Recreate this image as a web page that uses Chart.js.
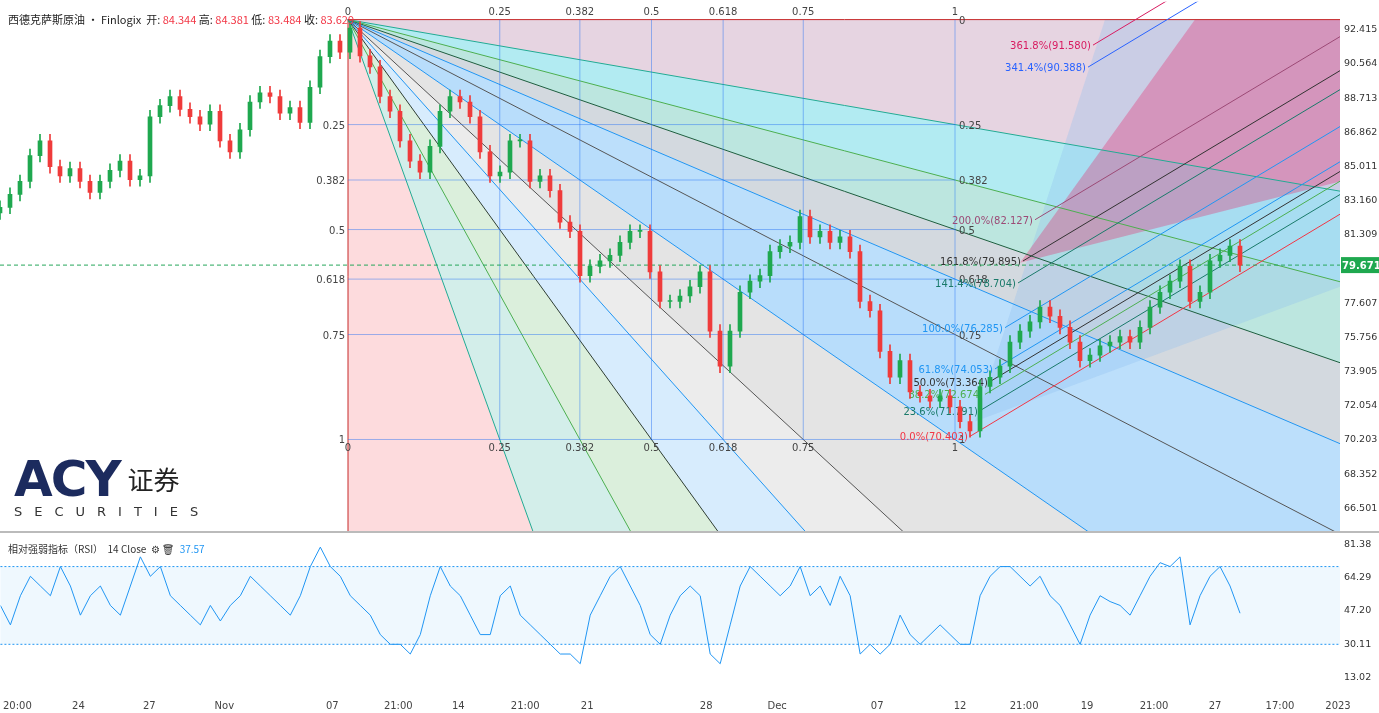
<!DOCTYPE html>
<html><head><meta charset="utf-8">
<script src="https://cdn.jsdelivr.net/npm/chart.js@4/dist/chart.umd.min.js"></script>
<style>
body{margin:0;width:1379px;height:713px;overflow:hidden;background:#fff;font-family:"Noto Sans CJK SC","Noto Sans",sans-serif}
#m{position:absolute;left:0;top:-8px;width:1379px;height:549px}
#r{position:absolute;left:0;top:525px;width:1379px;height:190px}
#sep{position:absolute;left:0;top:531px;width:1379px;height:2px;background:#bbb}
.hd{position:absolute;left:8px;top:11px;font-size:11px;color:#222;white-space:nowrap}
.hd b{font-weight:normal;color:#f23645}
.rl{position:absolute;left:8px;top:541px;font-size:10px;color:#333;white-space:nowrap}
.logo{position:absolute;left:14px;top:450px;color:#1c2b5e}
</style></head><body>
<div id="r"><canvas id="rc"></canvas></div>
<div id="m"><canvas id="mc"></canvas></div>
<div id="sep"></div>
<div class="hd">西德克萨斯原油 · Finlogix &nbsp;开: <b>84.344</b> 高: <b>84.381</b> 低: <b>83.484</b> 收: <b>83.629</b></div>
<div class="rl">相对强弱指标（RSI） &nbsp;14 Close &nbsp;⚙ 🗑 &nbsp;<span style="color:#2196f3">37.57</span></div>
<div class="logo"><span style="font:bold 50px 'DejaVu Sans',sans-serif;letter-spacing:-2px">ACY</span><span style="font:26px 'Noto Sans CJK SC';margin-left:8px;vertical-align:6px;color:#222">证券</span>
<div style="font:13px 'DejaVu Sans';letter-spacing:12px;color:#333;margin-top:-4px">SECURITIES</div></div>
<script>
const CLOSES=[82.8,83.5,84.2,85.6,86.4,85.0,84.5,84.9,84.2,83.6,84.2,84.8,85.3,84.3,84.5,87.7,88.3,88.8,88.1,87.7,87.3,88.0,86.4,85.8,87.0,88.5,89.0,88.8,87.9,88.2,87.4,89.3,90.96,91.8,91.2,92.5,91.0,90.4,88.8,88.0,86.4,85.3,84.7,86.1,88.0,88.8,88.5,87.7,85.8,84.5,84.7,86.4,86.4,84.2,84.5,83.7,82.0,81.5,79.1,79.6,79.9,80.2,80.9,81.5,81.5,79.3,77.7,77.7,78.0,78.5,79.3,76.1,74.2,76.1,78.2,78.8,79.1,80.4,80.7,80.9,82.3,81.2,81.5,80.9,81.2,80.4,77.7,77.2,75.0,73.6,74.5,72.8,72.6,72.3,72.6,72.0,71.2,70.7,73.1,73.6,74.2,75.5,76.1,76.6,77.4,76.9,76.3,75.5,74.5,74.8,75.3,75.5,75.8,75.5,76.3,77.4,78.2,78.8,79.6,77.7,78.2,79.9,80.2,80.7,79.67];
const RSI=[50,40,55,65,60,55,70,60,45,55,60,50,45,60,75,65,70,55,50,45,40,50,42,50,55,65,60,55,50,45,55,70,80,70,65,55,50,45,35,30,30,25,35,55,70,60,55,45,35,35,55,60,45,40,35,30,25,25,20,45,55,65,70,60,50,35,30,45,55,60,55,25,20,40,60,70,65,60,55,60,70,55,60,50,65,55,25,30,25,30,45,35,30,35,40,35,30,30,55,65,70,70,65,60,65,55,50,40,30,45,55,52,50,45,55,65,72,70,75,40,55,65,70,60,46];
const PRICE_TICKS=[92.415,90.564,88.713,86.862,85.011,83.160,81.309,79.458,77.607,75.756,73.905,72.054,70.203,68.352,66.501];
const RSI_TICKS=[81.38,64.29,47.20,30.11,13.02];
const X_TICK_POS=[1.7,7.8,14.9,22.4,33.2,39.8,45.8,52.5,58.7,70.6,77.7,87.7,96,102.4,108.7,115.4,121.5,128,133.8];
const X_TICK_LABELS=['20:00','24','27','Nov','07','21:00','14','21:00','21','28','Dec','07','12','21:00','19','21:00','27','17:00','2023'];
const LAST_PRICE=79.671;
const FAN_ORIGIN=[34.8,92.96], FAN_END=[95.5,70.23];
const FAN_LEVELS=[0.25,0.382,0.5,0.618,0.75];
const CH_LEVELS=[0,0.236,0.382,0.5,0.618,1,1.414,1.618,2,3.414,3.618];
const CH_VALUES=[70.402,71.791,72.674,73.364,74.053,76.285,78.704,79.895,82.127,90.388,91.580];
const CH_START=[97,98,98.5,99,99.5,100.5,101.8,102.3,103.5,108.8,109.3];
const CH_SLOPE=0.325;
const CH_COLORS=['#f23645','#1a7a6a','#4caf50','#333333','#2196f3','#2196f3','#1a7a6a','#333333','#9c4a76','#2962ff','#d81b60'];

const opens=CLOSES.map((c,i)=>i?CLOSES[i-1]:c-0.3);
const bodies=CLOSES.map((c,i)=>({x:i,y:[opens[i],c===opens[i]?c+0.05:c]}));
const wicks=CLOSES.map((c,i)=>({x:i,y:[Math.min(c,opens[i])-0.35,Math.max(c,opens[i])+0.35]}));
const cols=CLOSES.map((c,i)=>c>=opens[i]?'#1fa84f':'#ef3b3b');
const W=39;
function fit(a){a.width=W;}

const fanPlugin={id:'fan',beforeDatasetsDraw(ch){
 const {ctx,chartArea:a,scales:{x,y}}=ch;const px=v=>x.getPixelForValue(v),py=v=>y.getPixelForValue(v);
 const O=[px(FAN_ORIGIN[0]),py(FAN_ORIGIN[1])],E=[px(FAN_END[0]),py(FAN_END[1])];
 const pts=[[O[0],E[1]]];FAN_LEVELS.forEach(r=>pts.push([O[0]+r*(E[0]-O[0]),E[1]]));pts.push(E);
 [...FAN_LEVELS].reverse().forEach(r=>pts.push([E[0],O[1]+r*(E[1]-O[1])]));pts.push([E[0],O[1]]);
 const far=p=>[O[0]+(p[0]-O[0])*20,O[1]+(p[1]-O[1])*20];
 const fills=['rgba(242,54,69,0.18)','rgba(34,171,148,0.2)','rgba(76,175,80,0.2)','rgba(33,150,243,0.18)','rgba(120,120,120,0.14)','rgba(120,120,120,0.2)','rgba(33,150,243,0.32)','rgba(33,150,243,0.3)','rgba(110,130,150,0.3)','rgba(34,171,148,0.3)','rgba(0,188,212,0.3)','rgba(140,60,120,0.22)'];
 const lc=['#c62828','#22ab94','#4caf50','#2f3e33','#2196f3','#555','#2196f3','#555','#2196f3','#1e5e3f','#4caf50','#22ab94','#c62828'];
 ctx.save();ctx.beginPath();ctx.rect(a.left,a.top,a.right-a.left,a.bottom-a.top);ctx.clip();
 for(let i=0;i<pts.length-1;i++){const p=far(pts[i]),q=far(pts[i+1]);ctx.fillStyle=fills[i];ctx.beginPath();ctx.moveTo(O[0],O[1]);ctx.lineTo(p[0],p[1]);ctx.lineTo(q[0],q[1]);ctx.closePath();ctx.fill();}
 const C=(i,p)=>[px(i),py(p)];
 ctx.fillStyle='rgba(140,190,240,0.3)';let P=[C(97.5,71.2),C(110.5,92.96),C(134,92.96),C(134,78.5)];ctx.beginPath();P.forEach((p,k)=>k?ctx.lineTo(...p):ctx.moveTo(...p));ctx.fill();
 ctx.fillStyle='rgba(233,30,99,0.32)';P=[C(102,79.8),C(119.5,92.96),C(134,92.96),C(134,84.2)];ctx.beginPath();P.forEach((p,k)=>k?ctx.lineTo(...p):ctx.moveTo(...p));ctx.fill();
 ctx.lineWidth=1;
 for(let i=0;i<pts.length;i++){const p=far(pts[i]);ctx.strokeStyle=lc[i];ctx.beginPath();ctx.moveTo(O[0],O[1]);ctx.lineTo(p[0],p[1]);ctx.stroke();}
 ctx.strokeStyle='rgba(33,110,243,0.45)';
 [0.25,0.382,0.5,0.618,0.75,1].forEach(r=>{const gx=O[0]+r*(E[0]-O[0]);ctx.beginPath();ctx.moveTo(gx,O[1]);ctx.lineTo(gx,E[1]);ctx.stroke();const gy=O[1]+r*(E[1]-O[1]);ctx.beginPath();ctx.moveTo(O[0],gy);ctx.lineTo(E[0],gy);ctx.stroke();});
 ctx.font='10px "DejaVu Sans"';ctx.fillStyle='#444';ctx.textAlign='center';
 [0,0.25,0.382,0.5,0.618,0.75,1].forEach(r=>{const gx=O[0]+r*(E[0]-O[0]);const t=String(r);ctx.fillText(t,gx,O[1]-5);ctx.fillText(t,gx,E[1]+12);const gy=O[1]+r*(E[1]-O[1]);if(r>0){ctx.textAlign='right';ctx.fillText(t,O[0]-3,gy+4);ctx.textAlign='left';ctx.fillText(t,E[0]+4,gy+4);ctx.textAlign='center';}});
 ctx.textAlign='left';ctx.fillText('0',E[0]+4,O[1]+4);
 CH_LEVELS.forEach((r,k)=>{const s=CH_START[k],v=CH_VALUES[k],f=i=>v+CH_SLOPE*(i-s);ctx.strokeStyle=CH_COLORS[k];ctx.beginPath();ctx.moveTo(px(s),py(v));ctx.lineTo(px(140),py(f(140)));ctx.stroke();
  ctx.fillStyle=CH_COLORS[k];ctx.textAlign='right';ctx.fillText((r*100).toFixed(1)+'%('+v.toFixed(3)+')',px(s)-2,py(v)+4);});
 ctx.setLineDash([4,3]);ctx.strokeStyle='#26a65b';ctx.beginPath();ctx.moveTo(a.left,py(LAST_PRICE));ctx.lineTo(a.right,py(LAST_PRICE));ctx.stroke();
 ctx.restore();
},afterDraw(ch){const {ctx,chartArea:a,scales:{y}}=ch;const yy=y.getPixelForValue(LAST_PRICE);ctx.save();ctx.fillStyle='#1fa84f';ctx.fillRect(a.right+1,yy-8,W-1,16);ctx.fillStyle='#fff';ctx.font='bold 10px "DejaVu Sans"';ctx.textAlign='left';ctx.fillText(LAST_PRICE.toFixed(3),a.right+2,yy+4);ctx.restore();}};

const yGrid={display:false,drawTicks:false,tickLength:0};
new Chart(document.getElementById('mc'),{type:'bar',data:{datasets:[
 {data:wicks,backgroundColor:cols,barThickness:1,grouped:false,order:2},
 {data:bodies,backgroundColor:cols,barThickness:4,grouped:false,order:1}]},
 options:{animation:false,responsive:true,maintainAspectRatio:false,layout:{padding:0},plugins:{legend:{display:false},tooltip:{enabled:false}},
 scales:{x:{type:'linear',min:0,max:134,display:false,offset:false},
  y:{position:'right',min:65.26,max:93.93,afterFit:fit,grid:yGrid,border:{display:false},
   afterBuildTicks:ax=>{ax.ticks=PRICE_TICKS.map(v=>({value:v}));},ticks:{font:{size:9.5,family:'DejaVu Sans'},color:'#333',padding:4,callback:v=>v.toFixed(3)}}}},
 plugins:[fanPlugin]});

new Chart(document.getElementById('rc'),{type:'line',data:{datasets:[
 {data:RSI.map((v,i)=>({x:i,y:v})),borderColor:'#2196f3',borderWidth:1,pointRadius:0,tension:0}]},
 options:{animation:false,responsive:true,maintainAspectRatio:false,layout:{padding:0},plugins:{legend:{display:false},tooltip:{enabled:false}},
 scales:{x:{type:'linear',min:0,max:134,grid:{display:false},border:{display:false},afterBuildTicks:ax=>{ax.ticks=X_TICK_POS.map(v=>({value:v}));},ticks:{autoSkip:false,maxRotation:0,font:{size:10,family:'DejaVu Sans'},color:'#444',callback:(v,i)=>X_TICK_LABELS[i]}},
  y:{position:'right',min:7,max:86.4,afterFit:fit,grid:yGrid,border:{display:false},afterBuildTicks:ax=>{ax.ticks=RSI_TICKS.map(v=>({value:v}));},ticks:{font:{size:9.5,family:'DejaVu Sans'},color:'#333',padding:4,callback:v=>v.toFixed(2)}}}},
 plugins:[{id:'band',beforeDatasetsDraw(ch){const {ctx,chartArea:a,scales:{y}}=ch;const t=y.getPixelForValue(70),b=y.getPixelForValue(30);ctx.save();ctx.fillStyle='rgba(33,150,243,0.07)';ctx.fillRect(a.left,t,a.right-a.left,b-t);ctx.strokeStyle='#2196f3';ctx.setLineDash([2,2]);[t,b].forEach(v=>{ctx.beginPath();ctx.moveTo(a.left,v);ctx.lineTo(a.right,v);ctx.stroke();});ctx.restore();}}]});
</script></body></html>
